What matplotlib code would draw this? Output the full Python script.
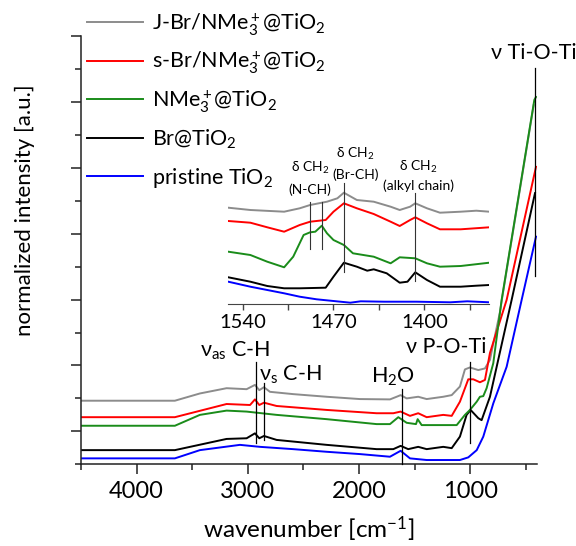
import matplotlib
matplotlib.use('Agg')
import matplotlib.pyplot as plt
from matplotlib.lines import Line2D

plt.rcParams['font.family'] = ['Lato', 'DejaVu Sans']
plt.rcParams['mathtext.fontset'] = 'custom'
plt.rcParams['mathtext.rm'] = 'Lato'
plt.rcParams['mathtext.it'] = 'Lato:italic'
plt.rcParams['mathtext.bf'] = 'Lato:bold'

# ---------------- data ----------------
series_labels = ["J-Br/NMe$_3^+$@TiO$_2$", "s-Br/NMe$_3^+$@TiO$_2$",
                 "NMe$_3^+$@TiO$_2$", "Br@TiO$_2$", "pristine TiO$_2$"]
series_colors = ["#8c8c8c", "#ff0000", "#1a8c1a", "#000000", "#0000ff"]

# main spectra (wavenumber, offset intensity)
gray_wn = [4500, 3656, 3431, 3191, 3011, 2936, 2897, 2855, 2801, 2592, 2291, 1992, 1722, 1662, 1626,
           1572, 1468, 1392, 1243, 1167, 1093, 1048, 1003, 928, 868, 823, 805, 733, 718, 430]
gray_y = [1.93, 1.93, 2.15, 2.31, 2.28, 2.41, 2.25, 2.34, 2.20, 2.13, 2.05, 1.98, 1.97, 2.05, 2.10,
          2.00, 2.05, 1.98, 2.05, 2.10, 2.36, 2.88, 2.94, 2.86, 2.91, 3.17, 3.47, 4.62, 4.95, 10.90]

red_wn = [4500, 3656, 3191, 2980, 2936, 2897, 2855, 2741, 2291, 1842, 1692, 1626, 1542, 1468, 1392,
          1243, 1167, 1093, 1018, 973, 913, 868, 823, 673, 409]
red_y = [1.43, 1.43, 1.83, 1.80, 1.97, 1.80, 1.87, 1.77, 1.65, 1.55, 1.55, 1.60, 1.47, 1.55, 1.43,
         1.50, 1.47, 1.90, 2.58, 2.58, 2.49, 2.56, 3.38, 4.99, 9.03]

green_wn = [4500, 3656, 3431, 3191, 3011, 2741, 2291, 1842, 1722, 1647, 1572, 1488, 1473, 1437, 1122,
            1048, 1003, 942, 913, 883, 853, 793, 718, 424, 409]
green_y = [1.17, 1.17, 1.50, 1.63, 1.60, 1.50, 1.37, 1.22, 1.22, 1.43, 1.26, 1.22, 1.37, 1.19, 1.19,
           1.50, 1.65, 1.90, 2.05, 2.07, 2.31, 3.07, 4.99, 11.06, 11.15]

black_wn = [4500, 3656, 3191, 3011, 2936, 2897, 2855, 2741, 2291, 1842, 1692, 1626, 1558, 1468, 1392,
            1243, 1167, 1093, 1033, 997, 928, 898, 823, 628, 418]
black_y = [0.43, 0.43, 0.77, 0.79, 0.94, 0.79, 0.86, 0.74, 0.59, 0.46, 0.46, 0.56, 0.46, 0.53, 0.46,
           0.53, 0.49, 0.84, 1.50, 1.65, 1.40, 1.34, 2.05, 4.99, 8.23]

blue_wn = [4500, 3656, 3431, 3071, 2891, 2592, 2291, 1992, 1722, 1626, 1542, 1392, 1093, 1018, 942,
           883, 793, 673, 538, 409]
blue_y = [0.18, 0.18, 0.43, 0.59, 0.53, 0.46, 0.38, 0.31, 0.23, 0.41, 0.18, 0.13, 0.13, 0.21, 0.43,
          0.84, 1.85, 2.96, 4.99, 6.91]

# inset spectra (wavenumber, offset intensity)
in_gray_wn = [1551, 1534, 1508, 1496, 1488, 1475, 1467, 1462, 1452, 1439, 1426, 1419, 1411, 1407,
              1398, 1388, 1372, 1360, 1350]
in_gray_y = [96.3, 94.0, 92.3, 95.7, 99.0, 102.3, 105.7, 111.3, 104.0, 102.3, 97.3, 94.0, 97.3, 100.7,
             95.7, 91.3, 92.3, 93.3, 92.3]
in_red_wn = [1551, 1534, 1521, 1508, 1496, 1488, 1476, 1470, 1462, 1452, 1439, 1426, 1419, 1411,
             1407, 1398, 1388, 1372, 1350]
in_red_y = [83.0, 81.3, 76.7, 72.3, 79.0, 82.3, 84.0, 92.3, 100.7, 95.7, 90.0, 82.3, 78.0, 84.0,
            86.7, 80.7, 74.7, 74.7, 76.7]
in_green_wn = [1551, 1534, 1521, 1508, 1501, 1493, 1488, 1484, 1479, 1475, 1470, 1462, 1455, 1439,
               1426, 1419, 1407, 1398, 1388, 1372, 1350]
in_green_y = [52.3, 49.0, 42.3, 36.7, 47.3, 69.0, 71.7, 72.3, 78.3, 70.7, 64.0, 59.0, 50.7, 47.3,
              40.7, 46.7, 45.7, 40.7, 37.3, 38.0, 41.3]
in_black_wn = [1551, 1534, 1521, 1508, 1496, 1476, 1470, 1462, 1452, 1444, 1439, 1429, 1419, 1413,
               1407, 1398, 1388, 1372, 1360, 1350]
in_black_y = [26.7, 22.3, 18.0, 15.7, 15.7, 16.3, 27.3, 41.3, 37.3, 33.3, 34.7, 30.7, 21.3, 22.3,
              31.7, 24.0, 17.3, 17.3, 18.3, 19.0]
in_blue_wn = [1551, 1534, 1521, 1508, 1496, 1483, 1470, 1457, 1449, 1431, 1406, 1380, 1367, 1350]
in_blue_y = [22.3, 17.3, 14.0, 10.7, 7.3, 4.7, 3.0, 1.3, 2.7, 2.3, 2.3, 1.7, 2.7, 1.7]

# band assignments
main_marks_wn = [2928, 2855, 1617, 1000, 418]
main_marks_lo = [0.65, 0.74, 0.0, 0.66, 5.71]
main_marks_hi = [3.10, 2.48, 2.29, 3.11, 12.03]
main_texts = ["ν$_{\\mathrm{as}}$ C-H", "ν$_{\\mathrm{s}}$ C-H", "H$_2$O", "ν P-O-Ti", "ν Ti-O-Ti"]
main_text_wn = [3118, 2619, 1691, 1216, 428]
main_text_y = [3.26, 2.54, 2.47, 3.38, 12.29]

inset_marks_wn = [1488, 1479, 1462, 1407]
inset_marks_lo = [54.7, 54.7, 32.3, 23.3]
inset_marks_hi = [102.3, 102.3, 120.7, 110.7]
inset_titles = ["δ CH$_2$", "δ CH$_2$", "δ CH$_2$"]
inset_subtitles = ["(N-CH)", "(Br-CH)", "(alkyl chain)"]
inset_text_wn = [1488, 1453, 1404.5]
inset_title_y = [135.7, 150.0, 137.3]
inset_sub_y = [114.0, 129.7, 118.0]

main_xticks = [4000, 3000, 2000, 1000]
inset_xticks = [1540, 1470, 1400]

# ---------------- figure ----------------
W, H = 576, 546
fig = plt.figure(figsize=(W / 100, H / 100), dpi=100)
ax = fig.add_axes([81 / W, (H - 464.3) / H, 456 / W, 428.3 / H])

main_series = [(gray_wn, gray_y), (red_wn, red_y), (green_wn, green_y),
               (black_wn, black_y), (blue_wn, blue_y)]
order = [0, 4, 3, 1, 2]
for k, i in enumerate(order):
    wn, y = main_series[i]
    ax.plot(wn, y, color=series_colors[i], lw=1.4, zorder=2 + k * 0.1)

for wn, lo, hi in zip(main_marks_wn, main_marks_lo, main_marks_hi):
    ax.plot([wn, wn], [lo, hi], color='black', lw=0.9, zorder=3, clip_on=False)
for t, wn, y in zip(main_texts, main_text_wn, main_text_y):
    ax.text(wn, y, t, ha='center', va='baseline', fontsize=15.5, clip_on=False)

ax.set_xlim(4500, 400)
ax.set_ylim(0, 13)
ax.set_xticks(main_xticks)
ax.set_xticks([4500, 3500, 2500, 1500, 500], minor=True)
ax.set_yticks([1, 3, 5, 7, 9, 11, 13])
ax.set_yticks([0, 2, 4, 6, 8, 10, 12], minor=True)
ax.set_yticklabels([])
for s in ['top', 'right']:
    ax.spines[s].set_visible(False)
for s in ['left', 'bottom']:
    ax.spines[s].set_linewidth(1.1)
    ax.spines[s].set_color('#222222')
ax.tick_params(axis='both', which='major', direction='out', length=7, width=1.1,
               color='#222222', labelsize=17, pad=5)
ax.tick_params(axis='both', which='minor', direction='out', length=4, width=1.1, color='#222222')
ax.set_xlabel("wavenumber [cm$^{-1}$]", fontsize=17.5)
ax.xaxis.set_label_coords(0.5, -0.118)
ax.set_ylabel("normalized intensity [a.u.]", fontsize=16)
ax.yaxis.set_label_coords(-0.101, 0.594)

# manual legend above axes
for i, (lab, col) in enumerate(zip(series_labels, series_colors)):
    yp = 22 + 38.6 * i
    fig.add_artist(Line2D([87 / W, 143 / W], [1 - yp / H, 1 - yp / H], color=col, lw=1.4))
    fig.text(152 / W, 1 - (yp + 8) / H, lab, fontsize=15.5, ha='left', va='baseline')

# inset
ins = fig.add_axes([228.3 / W, (H - 304) / H, 261 / W, 144 / H])
ins.patch.set_alpha(0)
inset_series = [(in_gray_wn, in_gray_y), (in_red_wn, in_red_y), (in_green_wn, in_green_y),
                (in_black_wn, in_black_y), (in_blue_wn, in_blue_y)]
for i, (wn, y) in enumerate(inset_series):
    ins.plot(wn, y, color=series_colors[i], lw=1.4)
for wn, lo, hi in zip(inset_marks_wn, inset_marks_lo, inset_marks_hi):
    ins.plot([wn, wn], [lo, hi], color='#333333', lw=0.8, clip_on=False)
for t, s, wn, y1, y2 in zip(inset_titles, inset_subtitles, inset_text_wn, inset_title_y, inset_sub_y):
    ins.text(wn, y1, t, ha='center', va='center', fontsize=10, clip_on=False)
    ins.text(wn, y2, s, ha='center', va='center', fontsize=10, clip_on=False)
ins.set_xlim(1551, 1350)
ins.set_ylim(0, 144)
ins.set_xticks(inset_xticks)
ins.set_xticks([1505, 1435, 1365], minor=True)
ins.set_yticks([])
for s in ['top', 'right', 'left']:
    ins.spines[s].set_visible(False)
ins.spines['bottom'].set_color('#444444')
ins.tick_params(axis='x', which='both', direction='out', length=4, width=1, color='#444444',
                labelsize=14.5, pad=3)

fig.savefig('out.png', dpi=100)
